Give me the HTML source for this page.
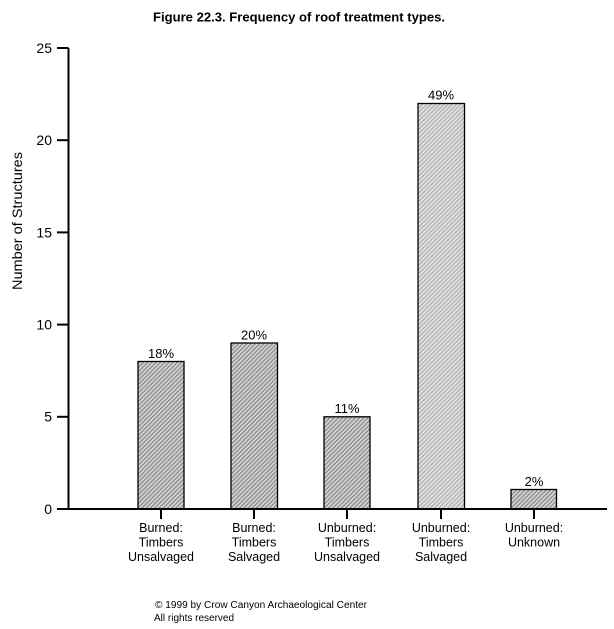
<!DOCTYPE html>
<html>
<head>
<meta charset="utf-8">
<style>
html,body{margin:0;padding:0;background:#fff;}
svg{display:block;}
text{font-family:"Liberation Sans",Arial,sans-serif;fill:#000;}
</style>
</head>
<body>
<svg width="614" height="629" viewBox="0 0 614 629" xmlns="http://www.w3.org/2000/svg">
<defs>
<pattern id="h1" patternUnits="userSpaceOnUse" width="3" height="3" patternTransform="rotate(45)">
<rect width="3" height="3" fill="#d6d6d6"/>
<rect width="1.3" height="3" fill="#8a8a8a"/>
</pattern>
<pattern id="h2" patternUnits="userSpaceOnUse" width="3" height="3" patternTransform="rotate(45)">
<rect width="3" height="3" fill="#e2e2e2"/>
<rect width="1.1" height="3" fill="#a8a8a8"/>
</pattern>
</defs>

<text x="299" y="21.5" font-size="13" font-weight="bold" text-anchor="middle" textLength="292" lengthAdjust="spacingAndGlyphs">Figure 22.3.  Frequency of roof treatment types.</text>

<!-- y label -->
<text transform="translate(22,221) rotate(-90)" font-size="14" text-anchor="middle" textLength="138" lengthAdjust="spacingAndGlyphs">Number of Structures</text>

<!-- bars -->
<rect x="138" y="361.5" width="46" height="147.5" fill="url(#h1)" stroke="#000" stroke-width="1.3"/>
<rect x="231" y="343" width="46.5" height="166" fill="url(#h1)" stroke="#000" stroke-width="1.3"/>
<rect x="324" y="416.8" width="46" height="92.2" fill="url(#h1)" stroke="#000" stroke-width="1.3"/>
<rect x="418" y="103.5" width="46.5" height="405.5" fill="url(#h2)" stroke="#000" stroke-width="1.3"/>
<rect x="511" y="489.5" width="45.5" height="19.5" fill="url(#h1)" stroke="#000" stroke-width="1.3"/>

<!-- axes -->
<g stroke="#000" stroke-width="2" fill="none">
<line x1="68.5" y1="48" x2="68.5" y2="509"/>
<line x1="57" y1="509" x2="607" y2="509"/>
<line x1="57" y1="48" x2="68.5" y2="48"/>
<line x1="57" y1="140.2" x2="68.5" y2="140.2"/>
<line x1="57" y1="232.4" x2="68.5" y2="232.4"/>
<line x1="57" y1="324.6" x2="68.5" y2="324.6"/>
<line x1="57" y1="416.8" x2="68.5" y2="416.8"/>
<line x1="161" y1="509" x2="161" y2="519"/>
<line x1="254" y1="509" x2="254" y2="519"/>
<line x1="347" y1="509" x2="347" y2="519"/>
<line x1="441" y1="509" x2="441" y2="519"/>
<line x1="534" y1="509" x2="534" y2="519"/>
</g>

<!-- y tick labels -->
<g font-size="14" text-anchor="end">
<text x="52" y="53">25</text>
<text x="52" y="145">20</text>
<text x="52" y="237.5">15</text>
<text x="52" y="329.5">10</text>
<text x="52" y="421.5">5</text>
<text x="52" y="514">0</text>
</g>

<!-- percent labels -->
<g font-size="13" text-anchor="middle">
<text x="161" y="358">18%</text>
<text x="254" y="339.5">20%</text>
<text x="347" y="413">11%</text>
<text x="441" y="99.5">49%</text>
<text x="534" y="486">2%</text>
</g>

<!-- x labels -->
<g font-size="12.5" text-anchor="middle">
<text x="161" y="532">Burned:</text>
<text x="161" y="546.5">Timbers</text>
<text x="161" y="561">Unsalvaged</text>
<text x="254" y="532">Burned:</text>
<text x="254" y="546.5">Timbers</text>
<text x="254" y="561">Salvaged</text>
<text x="347" y="532">Unburned:</text>
<text x="347" y="546.5">Timbers</text>
<text x="347" y="561">Unsalvaged</text>
<text x="441" y="532">Unburned:</text>
<text x="441" y="546.5">Timbers</text>
<text x="441" y="561">Salvaged</text>
<text x="534" y="532">Unburned:</text>
<text x="534" y="546.5">Unknown</text>
</g>

<!-- footer -->
<text x="155" y="608" font-size="10" textLength="212" lengthAdjust="spacingAndGlyphs">© 1999 by Crow Canyon Archaeological Center</text>
<text x="154" y="621" font-size="10">All rights reserved</text>
</svg>
</body>
</html>
